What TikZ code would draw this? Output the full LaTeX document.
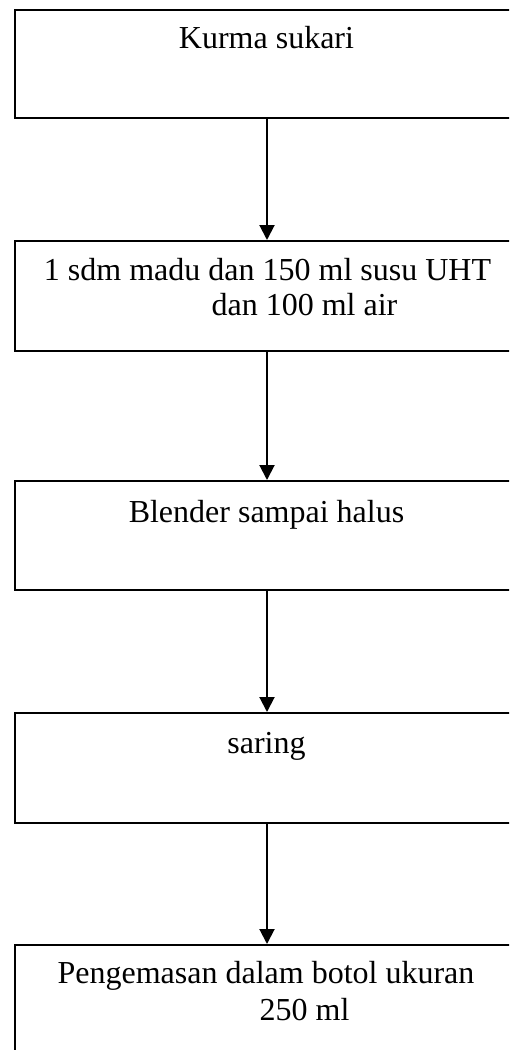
\documentclass[tikz,border=0pt]{standalone}
\usepackage{fontspec}
\setmainfont{Liberation Serif}
\usetikzlibrary{arrows.meta}
\tikzset{
  stepbox/.style={draw=black, line width=2pt, rectangle, inner sep=0pt,
    minimum width=504pt, anchor=north west},
  label/.style={inner sep=0pt, anchor=base, font=\fontsize{32}{37}\selectfont},
  flow/.style={line width=2pt, -{Triangle[length=15pt,width=15pt]}}
}
\begin{document}
\begin{tikzpicture}[x=1pt,y=-1pt]
\useasboundingbox (0,0) rectangle (509,1050);
\clip (0,0) rectangle (509,1050);
\fill[white] (0,0) rectangle (509,1050);

% process boxes
\node[stepbox, minimum height=108pt] (b1) at (14,9) {};
\node[stepbox, minimum height=110pt] (b2) at (14,240) {};
\node[stepbox, minimum height=109pt] (b3) at (14,480) {};
\node[stepbox, minimum height=110pt] (b4) at (14,712) {};
\node[stepbox, minimum height=110pt] (b5) at (14,944) {};

% box texts
\node[label] (t1) at (266.5,48) {Kurma sukari};
\node[label] (t2a) at (267.5,280) {1 sdm madu dan 150 ml susu UHT};
\node[label] (t2b) at (304.5,315) {dan 100 ml air};
\node[label] (t3) at (266.5,522) {Blender sampai halus};
\node[label] (t4) at (266.5,753) {saring};
\node[label] (t5a) at (266,983) {Pengemasan dalam botol ukuran};
\node[label] (t5b) at (304.5,1020) {250 ml};

% connectors
\draw[flow] (b1.south) -- (b2.north);
\draw[flow] (b2.south) -- (b3.north);
\draw[flow] (b3.south) -- (b4.north);
\draw[flow] (b4.south) -- (b5.north);
\end{tikzpicture}
\end{document}
